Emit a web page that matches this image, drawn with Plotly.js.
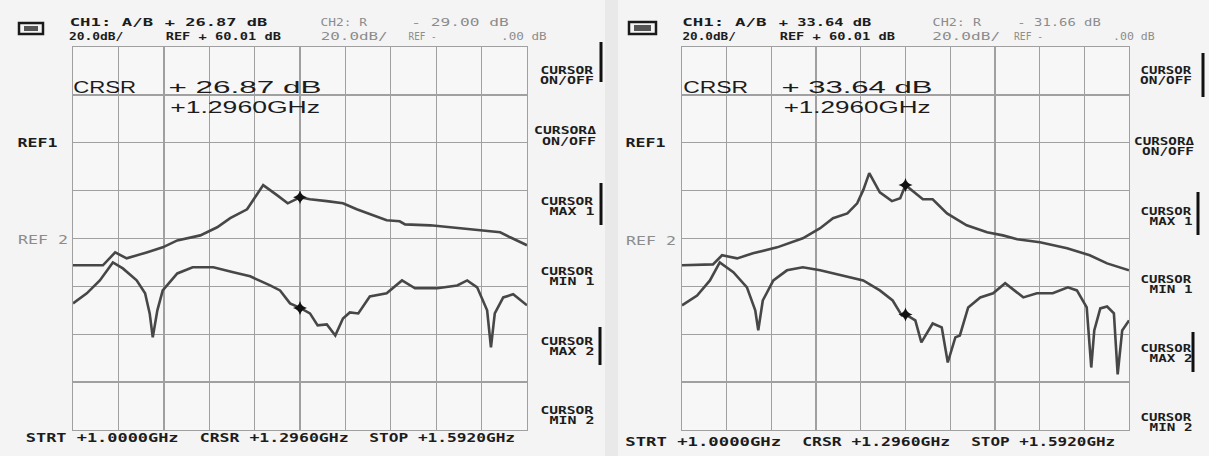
<!DOCTYPE html>
<html><head><meta charset="utf-8">
<script src="https://cdn.plot.ly/plotly-3.0.1.min.js"></script>
<style>html,body{margin:0;padding:0;background:#f4f4f4;}#chart{width:1209px;height:456px;}</style>
</head><body><div id="chart"></div>
<script>
const leftCh1Freq = [1.000,1.039,1.055,1.070,1.096,1.117,1.136,1.166,1.188,1.205,1.227,1.235,1.248,1.266,1.280,1.296,1.309,1.331,1.352,1.370,1.387,1.409,1.426,1.433,1.466,1.501,1.557,1.570,1.592];
const leftCh1dB   = [-11.2,-11.2,-5.8,-8.3,-5.8,-3.7,-0.8,1.3,4.7,8.5,12.2,16.0,22.3,18.1,14.7,17.2,16.4,15.6,14.7,12.2,10.1,7.6,7.2,5.9,5.5,4.3,2.6,0.5,-2.8];
const leftCh2Freq = [1.000,1.018,1.035,1.052,1.065,1.083,1.094,1.100,1.104,1.110,1.117,1.136,1.156,1.183,1.209,1.231,1.257,1.270,1.283,1.296,1.309,1.319,1.331,1.342,1.352,1.361,1.372,1.387,1.409,1.429,1.446,1.475,1.501,1.514,1.527,1.540,1.545,1.550,1.561,1.574,1.592];
const leftCh2dB   = [-27.1,-22.9,-17.5,-10.0,-12.5,-17.5,-22.9,-31.3,-41.3,-30.0,-21.7,-14.6,-12.0,-12.0,-14.1,-15.8,-19.6,-21.7,-27.1,-29.0,-31.3,-36.3,-35.9,-40.5,-33.4,-30.9,-31.3,-24.2,-22.9,-17.5,-20.8,-20.8,-19.6,-17.5,-20.4,-30.0,-45.5,-31.3,-24.6,-23.3,-27.9];
const rightCh1Freq = [1.000,1.041,1.053,1.073,1.094,1.126,1.160,1.183,1.200,1.219,1.232,1.240,1.248,1.262,1.278,1.289,1.296,1.319,1.332,1.351,1.377,1.404,1.425,1.444,1.474,1.510,1.540,1.563,1.592];
const rightCh1dB   = [-11.2,-10.8,-7.0,-8.3,-6.2,-3.7,0.1,4.3,8.5,10.5,14.7,20.2,27.3,19.3,15.6,16.8,22.3,16.4,16.4,10.5,5.5,2.6,1.3,-0.3,-1.6,-4.1,-7.0,-10.4,-13.3];
const rightCh2Freq = [1.000,1.020,1.037,1.050,1.068,1.086,1.097,1.101,1.107,1.121,1.139,1.160,1.183,1.213,1.240,1.262,1.279,1.291,1.296,1.309,1.317,1.332,1.344,1.352,1.362,1.368,1.379,1.395,1.412,1.428,1.452,1.470,1.491,1.511,1.523,1.536,1.542,1.546,1.554,1.563,1.572,1.577,1.583,1.592];
const rightCh2dB   = [-27.9,-23.8,-17.5,-10.0,-14.1,-20.4,-30.0,-38.4,-25.9,-17.5,-13.3,-12.0,-13.3,-15.4,-17.5,-21.7,-25.9,-32.1,-31.7,-34.2,-43.4,-35.5,-37.1,-51.8,-41.3,-40.5,-28.8,-24.6,-22.9,-18.7,-24.6,-22.9,-22.9,-20.4,-21.7,-28.8,-53.9,-38.4,-29.2,-28.4,-31.3,-56.8,-38.4,-34.2];

const cursorFreq = 1.296;
const startFreq = 1.0, stopFreq = 1.592;
const leftReadCh1 = "+ 26.87 dB", leftReadCh2 = "- 29.00 dB";
const rightReadCh1 = "+ 33.64 dB", rightReadCh2 = "- 31.66 dB";
const cursorText = "+1.2960GHz";
const startText = "STRT +1.0000GHz", crsrText = "CRSR +1.2960GHz", stopText = "STOP +1.5920GHz";
const softKeys = [["CURSOR","ON/OFF"],["CURSORΔ","ON/OFF"],["CURSOR","MAX 1"],["CURSOR","MIN 1"],["CURSOR","MAX 2"],["CURSOR","MIN 2"]];

// ---- layout helpers ----
const W = 1209, H = 456;
const px = x => x / W, py = y => 1 - y / H;
const TRACE = '#474747', GRID = '#a0a0a0';

function cursorY(fr, db){ return db[fr.indexOf(cursorFreq)]; }

const data = [
  {x:leftCh1Freq, y:leftCh1dB, xaxis:'x', yaxis:'y', mode:'lines', line:{color:TRACE, width:2.6}},
  {x:leftCh2Freq, y:leftCh2dB, xaxis:'x', yaxis:'y', mode:'lines', line:{color:TRACE, width:2.6}},
  {x:[cursorFreq,cursorFreq], y:[cursorY(leftCh1Freq,leftCh1dB), cursorY(leftCh2Freq,leftCh2dB)], xaxis:'x', yaxis:'y', mode:'markers', marker:{symbol:'star-diamond', size:10, color:'#111'}},
  {x:rightCh1Freq, y:rightCh1dB, xaxis:'x2', yaxis:'y2', mode:'lines', line:{color:TRACE, width:2.6}},
  {x:rightCh2Freq, y:rightCh2dB, xaxis:'x2', yaxis:'y2', mode:'lines', line:{color:TRACE, width:2.6}},
  {x:[cursorFreq,cursorFreq], y:[cursorY(rightCh1Freq,rightCh1dB), cursorY(rightCh2Freq,rightCh2dB)], xaxis:'x2', yaxis:'y2', mode:'markers', marker:{symbol:'star-diamond', size:10, color:'#111'}}
];

function xax(d, anchor){
  return {domain:d, anchor:anchor, range:[startFreq, stopFreq], tick0:startFreq, dtick:(stopFreq-startFreq)/10,
    showgrid:true, gridcolor:GRID, gridwidth:1.4, zeroline:false, showticklabels:false, ticks:'',
    showline:true, mirror:true, linecolor:GRID, linewidth:1.4, fixedrange:true};
}
function yax(anchor){
  return {domain:[py(430), py(47)], anchor:anchor, range:[-80,80], tick0:-80, dtick:20,
    showgrid:true, gridcolor:GRID, gridwidth:1.4, zeroline:false, showticklabels:false, ticks:'',
    showline:true, mirror:true, linecolor:GRID, linewidth:1.4, fixedrange:true};
}

const styles = {
  hdr:  {family:'DejaVu Sans Mono', size:11, color:'#1c1c1c', weight:'bold'},
  hdrg: {family:'DejaVu Sans Mono', size:11, color:'#8c8c8c', weight:'normal'},
  big:  {family:'Liberation Sans', size:16, color:'#1c1c1c', weight:'normal'},
  lab:  {family:'DejaVu Sans Mono', size:10, color:'#1c1c1c', weight:'bold'},
  ref:  {family:'DejaVu Sans Mono', size:12, color:'#1c1c1c', weight:'bold'},
  refg: {family:'DejaVu Sans Mono', size:12, color:'#8c8c8c', weight:'normal'},
  bot:  {family:'DejaVu Sans Mono', size:12, color:'#1c1c1c', weight:'bold'}
};
const annotations = [], stretch = [];
function T(x1, x2, y, text, st){
  annotations.push({xref:'paper', yref:'paper', x:px((x1+x2)/2), y:py(y), xanchor:'center', yanchor:'middle',
    text:text, showarrow:false, font:styles[st]});
  stretch.push(x2 - x1);
}

function panel(P){
  T(P.ch1[0], P.ch1[1], P.l1, "CH1: A/B", 'hdr');
  T(P.v1[0], P.v1[1], P.l1, P.read1, 'hdr');
  T(P.ch2[0], P.ch2[1], P.l1, "CH2: R", 'hdrg');
  T(P.v2[0], P.v2[1], P.l1, P.read2, 'hdrg');
  T(P.ch1[0], P.s1, P.l2, "20.0dB/", 'hdr');
  T(P.v1[0], P.r1, P.l2, "REF + 60.01 dB", 'hdr');
  T(P.ch2[0], P.s2, P.l2, "20.0dB/", 'hdrg');
  T(P.rm[0], P.rm[1], P.l2, "REF -", 'hdrg');
  T(P.z[0], P.z[1], P.l2, ".00 dB", 'hdrg');
  T(P.crsr[0], P.crsr[1], 88, "CRSR", 'big');
  T(P.bv[0], P.bv[1], 88, P.read1, 'big');
  T(P.bf[0], P.bf[1], 107, cursorText, 'big');
  T(P.ref[0], P.ref[0]+40, 143, "REF1", 'ref');
  T(P.ref[0]+1, P.ref[0]+51, P.ref2y, "REF 2", 'refg');
  T(P.bot[0][0], P.bot[0][1], P.boty, startText, 'bot');
  T(P.bot[1][0], P.bot[1][1], P.boty, crsrText, 'bot');
  T(P.bot[2][0], P.bot[2][1], P.boty, stopText, 'bot');
  softKeys.forEach((k,i)=>{
    const y0 = P.keys[i];
    const w0 = k[0].length > 6 ? P.kw + 8 : P.kw;
    const sh = (i===1 ? -6 : 0);
    T(P.kx + sh, P.kx + sh + w0, y0, k[0], 'lab');
    const w1 = Math.round(P.kw * k[1].length / 6);
    T(P.kx + P.kw - w1 + (i===1?2:0), P.kx + P.kw + (i===1?2:0), y0 + 10, k[1], 'lab');
  });
}

panel({l1:23, l2:37, ch1:[69,153], v1:[165,268], ch2:[320,367], v2:[411,509], s1:124, r1:281, s2:387,
  rm:[408,436], z:[501,547], crsr:[73,136], bv:[168,321], bf:[170,320], ref:[17], ref2y:240,
  bot:[[25,178],[199,348],[369,515]], boty:438, kx:540, kw:54, keys:[70,131,201,271,341,410],
  read1:leftReadCh1, read2:leftReadCh2});
panel({l1:23, l2:37, ch1:[682,767], v1:[779,872], ch2:[932,981], v2:[1017,1101], s1:736, r1:895, s2:1000,
  rm:[1014,1043], z:[1113,1155], crsr:[683,748], bv:[781,932], bf:[783,930], ref:[625], ref2y:241,
  bot:[[625,781],[802,950],[971,1115]], boty:442, kx:1140, kw:52, keys:[70,141,211,279,348,417],
  read1:rightReadCh1, read2:rightReadCh2});

const shapes = [];
function R(x0,y0,x1,y1,opt){ shapes.push(Object.assign({type:'rect', xref:'paper', yref:'paper', x0:px(x0), x1:px(x1), y0:py(y1), y1:py(y0)}, opt)); }
function V(x,y0,y1){ shapes.push({type:'line', xref:'paper', yref:'paper', x0:px(x), x1:px(x), y0:py(y0), y1:py(y1), line:{color:'#111', width:3}}); }
R(605,0,618,456,{fillcolor:'#e9e9e9', line:{width:0}, layer:'below'});
R(19,23,43,34,{line:{color:'#1a1a1a', width:2.5}});
R(24,26,38,31,{fillcolor:'#555', line:{width:0}});
R(629,22,656,34,{line:{color:'#1a1a1a', width:2.5}});
R(634,25,651,31,{fillcolor:'#555', line:{width:0}});
V(601,42,82); V(601,183,225); V(600,327,365);
V(1203,53,97); V(1198,192,235); V(1193,332,372);

const layout = {
  width:W, height:H, margin:{l:0,r:0,t:0,b:0}, showlegend:false,
  paper_bgcolor:'#f4f4f4', plot_bgcolor:'#f7f7f7',
  xaxis: xax([px(73), px(527)], 'y'), yaxis: yax('x'),
  xaxis2: xax([px(682), px(1129)], 'y2'), yaxis2: yax('x2'),
  annotations: annotations, shapes: shapes
};

const gd = document.getElementById('chart');
function widen(){
  gd.querySelectorAll('g.annotation').forEach(g=>{
    const i = +g.getAttribute('data-index');
    const t = g.querySelector('text.annotation-text');
    if(!t || !stretch[i] || t.getAttribute('data-wide')) return;
    const bb = t.getBBox();
    if(!bb.width) return;
    const s = stretch[i] / bb.width, cx = bb.x + bb.width/2;
    const old = t.getAttribute('transform') || '';
    t.setAttribute('transform', old + ' translate(' + cx + ' 0) scale(' + s + ' 1) translate(' + (-cx) + ' 0)');
    t.setAttribute('data-wide', '1');
  });
}
Plotly.newPlot(gd, data, layout, {staticPlot:true, displayModeBar:false}).then(()=>{
  widen();
  gd.on('plotly_afterplot', widen);
  setTimeout(widen, 200);
});
</script></body></html>
